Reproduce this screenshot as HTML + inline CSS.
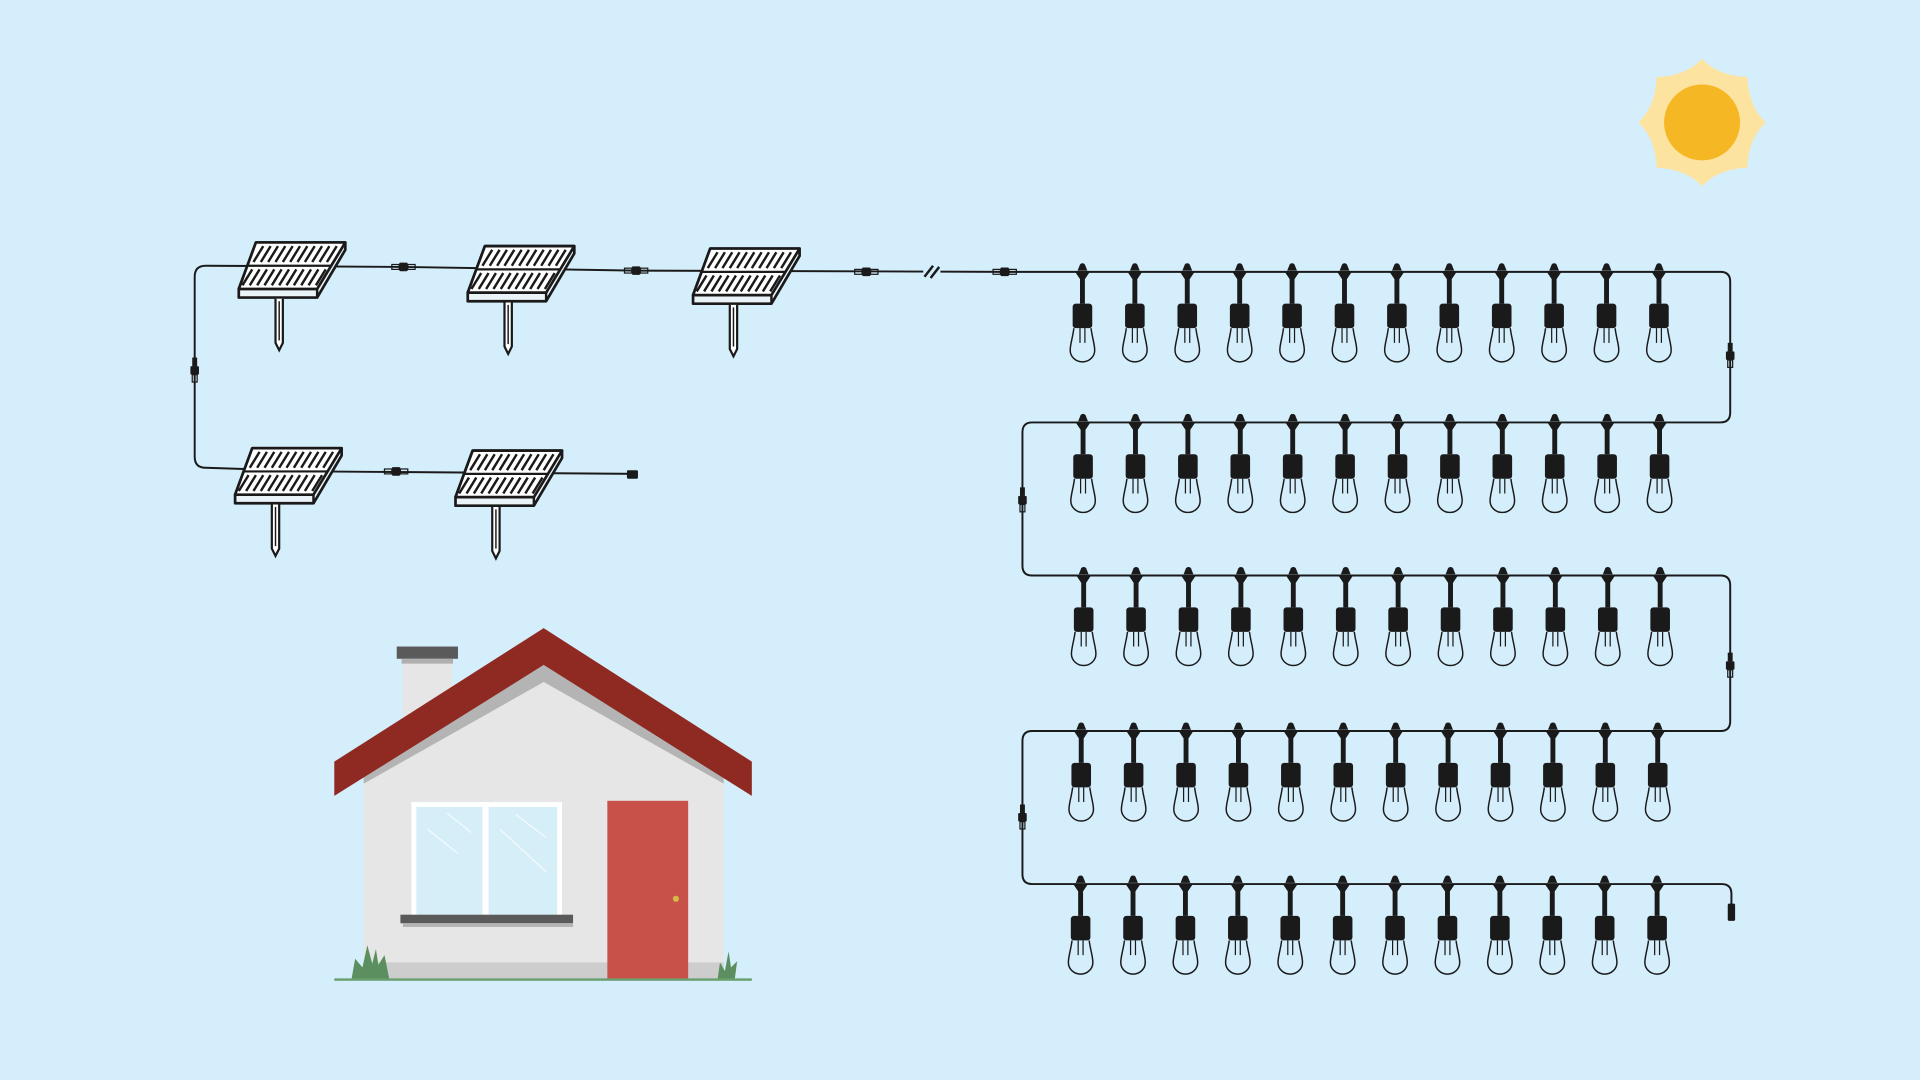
<!DOCTYPE html>
<html><head><meta charset="utf-8"><style>
html,body{margin:0;padding:0;background:#d5eefc;}
svg{display:block}
</style></head><body>
<svg width="1920" height="1080" viewBox="0 0 1568 882" xmlns="http://www.w3.org/2000/svg">
<defs>
<g id="bulb">
  <path d="M-4,-1 L-2,-6 A2.5,2.5 0 0 1 2,-6 L4,-1 Z" fill="#1a1a1a"/>
  <path d="M-6,0 L6,0 L2,6 L2,26 L-2,26 L-2,6 Z" fill="#1a1a1a"/>
  <rect x="-8" y="26" width="16" height="20" rx="2.5" fill="#1a1a1a"/>
  <path d="M-7,46 C-8,54 -10,59 -10,64 A10,9.5 0 0 0 10,64 C10,59 8,54 7,46" fill="none" stroke="#1a1a1a" stroke-width="1.2"/>
  <path d="M-2,46 L-2,58 M2,46 L2,58" stroke="#1a1a1a" stroke-width="1"/>
</g>
<g id="row">
  <use href="#bulb" x="884"/><use href="#bulb" x="926.8"/><use href="#bulb" x="969.6"/><use href="#bulb" x="1012.4"/>
  <use href="#bulb" x="1055.2"/><use href="#bulb" x="1098"/><use href="#bulb" x="1140.8"/><use href="#bulb" x="1183.6"/>
  <use href="#bulb" x="1226.4"/><use href="#bulb" x="1269.2"/><use href="#bulb" x="1312"/><use href="#bulb" x="1354.8"/>
</g>
<g id="panel">
  <path d="M14,0 L87,0 L87,6 L64,45 L0,45 L0,38 Z" fill="#eaf4f8" stroke="#1a1a1a" stroke-width="2.2" stroke-linejoin="round"/>
  <path d="M14,0 L87,0 L64,38 L0,38 Z" fill="#fff" stroke="#1a1a1a" stroke-width="2.2" stroke-linejoin="round"/>
  <path d="M64,38 L64,45" stroke="#1a1a1a" stroke-width="2"/>
  <path d="M7,19 L76,19" stroke="#1a1a1a" stroke-width="1.8"/>
  <g stroke="#1a1a1a" stroke-width="2">
    <path d="M20,3 L12,16 M26,3 L18,16 M32,3 L24,16 M38,3 L30,16 M44,3 L36,16 M50,3 L42,16 M56,3 L48,16 M62,3 L54,16 M68,3 L60,16 M74,3 L66,16 M80,3 L72,16"/>
    <path d="M11,22 L3,35 M17,22 L9,35 M23,22 L15,35 M29,22 L21,35 M35,22 L27,35 M41,22 L33,35 M47,22 L39,35 M53,22 L45,35 M59,22 L51,35 M65,22 L57,35 M71,22 L63,35"/>
  </g>
  <path d="M30,46 L30,82 L33,88 L36,82 L36,46" fill="#fff" stroke="#1a1a1a" stroke-width="1.8"/>
  <path d="M33,48 L33,80" stroke="#1a1a1a" stroke-width="1.2"/>
</g>
<g id="connH">
  <rect x="-9" y="-2" width="6" height="4" fill="none" stroke="#1a1a1a" stroke-width="1"/>
  <rect x="-3" y="-3.5" width="7" height="7" rx="1" fill="#1a1a1a"/>
  <rect x="4" y="-2" width="6" height="4" fill="none" stroke="#1a1a1a" stroke-width="1"/>
</g>
<g id="connV">
  <rect x="-2" y="-10" width="4" height="7" fill="#1a1a1a"/>
  <rect x="-3.5" y="-3" width="7" height="7" rx="1" fill="#1a1a1a"/>
  <rect x="-2" y="4" width="4" height="6" fill="none" stroke="#1a1a1a" stroke-width="1"/>
</g>
</defs>
<rect width="1568" height="882" fill="#d5eefc"/>

<!-- sun -->
<g transform="translate(1390,100)">
  <path d="M0,-52 Q13,-38 37,-37 Q38,-13 52,0 Q38,13 37,37 Q13,38 0,52 Q-13,38 -37,37 Q-38,13 -52,0 Q-38,-13 -37,-37 Q-13,-38 0,-52 Z" fill="#fde3a0"/>
  <circle r="31" fill="#f6b724"/>
</g>

<!-- solar wires -->
<g fill="none" stroke="#1a1a1a" stroke-width="1.6">
  <path d="M520,387 L260,385 L168,382 Q159,382 159,373 L159,226 Q159,217 168,217 L330,218 L520,221 L820,222"/>
</g>
<g fill="#d5eefc"><rect x="754" y="214" width="14" height="16"/></g>
<path d="M755,226 L762,217 M760,227 L767,218" stroke="#1a1a1a" stroke-width="2"/>
<use href="#connH" x="329" y="218"/>
<use href="#connH" x="519" y="221"/>
<use href="#connH" x="707" y="222"/>
<use href="#connH" x="820" y="222"/>
<use href="#connH" x="323" y="385"/>
<rect x="512" y="384" width="9" height="7" rx="1" fill="#1a1a1a"/>
<use href="#connV" x="159" y="302"/>

<use href="#panel" x="195" y="198"/>
<use href="#panel" x="382" y="201"/>
<use href="#panel" x="566" y="203"/>
<use href="#panel" x="192" y="366"/>
<use href="#panel" x="372" y="368"/>

<!-- light wire -->
<path d="M820,222 L1405,222 Q1413,222 1413,230 L1413,337 Q1413,345 1405,345 L843,345 Q835,345 835,353 L835,462 Q835,470 843,470 L1405,470 Q1413,470 1413,478 L1413,589 Q1413,597 1405,597 L843,597 Q835,597 835,605 L835,714 Q835,722 843,722 L1406,722 Q1414,722 1414,730 L1414,742" fill="none" stroke="#1a1a1a" stroke-width="1.6"/>
<rect x="1411" y="738" width="6" height="14" rx="1" fill="#1a1a1a"/>
<use href="#connV" x="1413" y="290"/>
<use href="#connV" x="835" y="408"/>
<use href="#connV" x="1413" y="543"/>
<use href="#connV" x="835" y="667"/>

<use href="#row" y="222"/>
<use href="#row" x="0.5" y="345"/>
<use href="#row" x="1" y="470"/>
<use href="#row" x="-1" y="597"/>
<use href="#row" x="-1.5" y="722"/>

<!-- house -->
<rect x="329" y="540" width="40" height="50" fill="#e6e6e6"/>
<rect x="324" y="528" width="50" height="10" fill="#5a5a5a"/>
<rect x="328" y="538" width="42" height="4" fill="#b0b0b0"/>
<path d="M297,635 L444,547 L591,635 L591,800 L297,800 Z" fill="#e6e6e6"/>
<path d="M297,622 L444,538 L591,622 L591,640 L444,557 L297,640 Z" fill="#b4b4b4"/>
<rect x="297" y="786" width="294" height="14" fill="#cdcdcd"/>
<path d="M273,622 L444,513 L614,622 L614,650 L444,543 L273,650 Z" fill="#8e2a22"/>
<rect x="336" y="655" width="123" height="94" fill="#ffffff"/>
<rect x="340" y="659" width="54" height="88" fill="#d6eef7"/>
<rect x="399" y="659" width="56" height="88" fill="#d6eef7"/>
<path d="M349,677 L374,697 M365,664 L385,680 M421,665 L446,684 M408,677 L446,712" stroke="#f4fbfe" stroke-width="1"/>
<rect x="327" y="747" width="141" height="7" fill="#5a5a5a"/>
<rect x="329" y="754" width="139" height="3" fill="#b4b4b4"/>
<rect x="496" y="654" width="66" height="146" fill="#c8514a"/>
<circle cx="552" cy="734" r="2.5" fill="#d9b84a"/>
<path d="M287,800 L290,783 L296,790 L300,772 L304,787 L307,775 L309,788 L314,780 L318,800 Z" fill="#5b8f5f"/>
<path d="M586,800 L588,786 L592,793 L595,777 L597,790 L602,785 L600,800 Z" fill="#5b8f5f"/>
<rect x="273" y="799" width="341" height="2" fill="#6aa070"/>
</svg>
</body></html>
